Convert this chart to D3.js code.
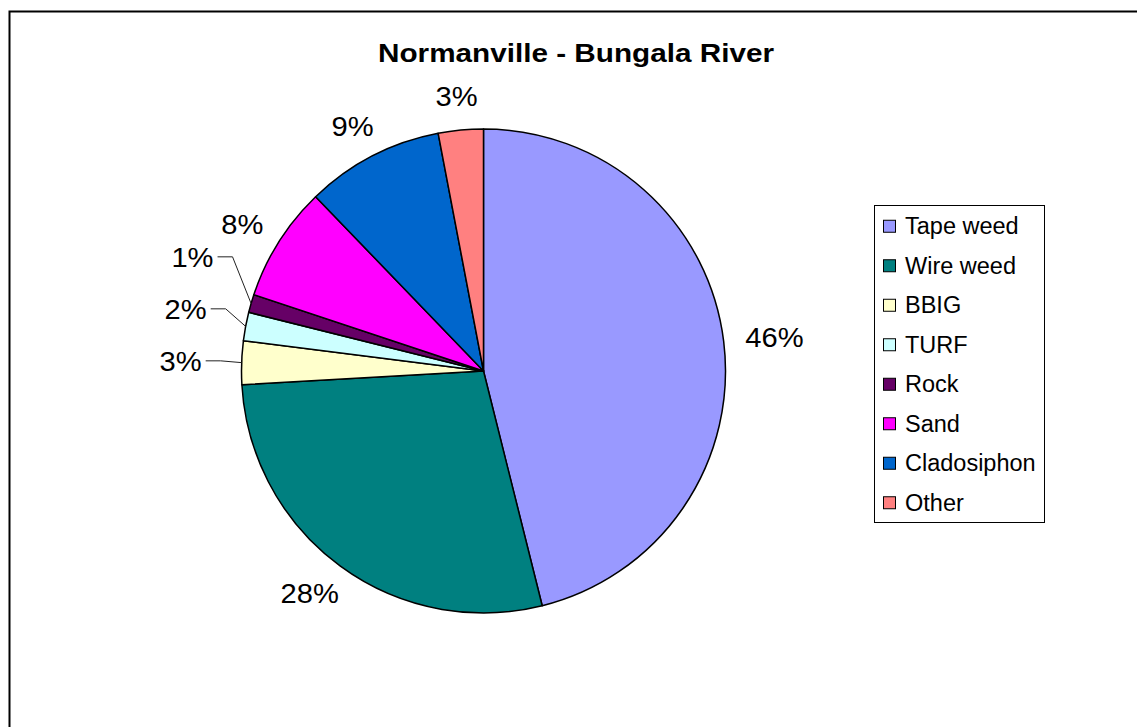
<!DOCTYPE html>
<html>
<head>
<meta charset="utf-8">
<script src="https://cdn.jsdelivr.net/npm/d3@7"></script>
<style>
  body { margin: 0; background: #fff; }
  svg { display: block; }
</style>
</head>
<body>
<svg id="chart" width="1137" height="727"></svg>
<script>
// Bottom-cover composition, Normanville - Bungala River (percent of cover)
const chartTitle = "Normanville - Bungala River";
const categories = ["Tape weed", "Wire weed", "BBIG", "TURF", "Rock", "Sand", "Cladosiphon", "Other"];
const shares = [46.1, 28.0, 2.9, 1.9, 1.2, 7.7, 9.2, 3.0];
const colors = ["#9999FF", "#008080", "#FFFFCC", "#CCFFFF", "#660066", "#FF00FF", "#0066CC", "#FF8080"];

const W = 1137, H = 727;
const font = "Arial, 'Liberation Sans', Helvetica, sans-serif";
const svg = d3.select("#chart");

// outer chart frame (runs past the right and bottom edges)
svg.append("rect")
  .attr("x", 9.5).attr("y", 11.5)
  .attr("width", W + 20).attr("height", H + 20)
  .attr("fill", "#fff").attr("stroke", "#000").attr("stroke-width", 2);

// title
svg.append("text")
  .attr("transform", "translate(576,62) scale(1.16,1)")
  .attr("text-anchor", "middle")
  .attr("font-family", font).attr("font-weight", "bold").attr("font-size", 25.6)
  .text(chartTitle);

// pie
const cx = 483.5, cy = 371, r = 242;
const total = d3.sum(shares);
const arcs = d3.pie().sort(null).value(d => d)(shares);
const arc = d3.arc().innerRadius(0).outerRadius(r);
const g = svg.append("g").attr("transform", `translate(${cx},${cy})`);

g.selectAll("path.slice").data(arcs).join("path")
  .attr("class", "slice")
  .attr("d", arc)
  .attr("fill", (d, i) => colors[i])
  .attr("stroke", "#000").attr("stroke-width", 1.5)
  .attr("stroke-linejoin", "round");

// percentage labels
const fmt = d3.format(".0%");
const labelFs = 27.5, labelSx = 1.06, halfH = 12;
const measurer = svg.append("text").attr("font-family", font).attr("font-size", labelFs).attr("visibility", "hidden");
const mid = d => (d.startAngle + d.endAngle) / 2;

const labels = arcs.map((d, i) => {
  const a = mid(d), sx = Math.sin(a), sy = -Math.cos(a);
  const text = fmt(d.value / total);
  measurer.text(text);
  const w = measurer.node().getComputedTextLength() * labelSx;
  const small = d.value / total < 0.0295;
  const R = r + (small ? 40 : 22);
  return {
    i, a, sx, sy, text, w, small,
    x: R * sx + sx * w / 2,
    y: R * sy + sy * halfH
  };
});
measurer.remove();

// push crowded labels apart vertically, working upward from the bottom on each side
const minGap = 52;
[-1, 1].forEach(side => {
  const list = labels.filter(l => Math.sign(l.sx) === side).sort((p, q) => q.y - p.y);
  const placed = [];
  list.forEach(l => {
    let moved = true;
    while (moved) {
      moved = false;
      for (const p of placed) {
        const xOverlap = Math.abs(p.x - l.x) < (p.w + l.w) / 2 + 4;
        if (xOverlap && Math.abs(p.y - l.y) < minGap) {
          l.y = p.y - minGap;
          moved = true;
        }
      }
    }
    placed.push(l);
  });
});

// leader lines for the small slices
labels.filter(l => l.small).forEach(l => {
  const edge = l.sx < 0 ? l.x + l.w / 2 : l.x - l.w / 2;
  const dir = l.sx < 0 ? 1 : -1;
  const pts = [
    [edge + dir * 4, l.y],
    [edge + dir * 19, l.y],
    [r * l.sx, r * l.sy]
  ];
  g.append("path")
    .attr("d", d3.line()(pts))
    .attr("fill", "none").attr("stroke", "#222").attr("stroke-width", 1);
});

g.selectAll("text.pct").data(labels).join("text")
  .attr("class", "pct")
  .attr("transform", l => `translate(${l.x},${l.y}) scale(${labelSx},1)`)
  .attr("text-anchor", "middle")
  .attr("dominant-baseline", "central")
  .attr("font-family", font).attr("font-size", labelFs)
  .attr("fill", "#000")
  .text(l => l.text);

// legend
const legend = svg.append("g");
const lx = 874.5, ly = 205.5, lw = 170, lh = 317;
legend.append("rect")
  .attr("x", lx).attr("y", ly).attr("width", lw).attr("height", lh)
  .attr("fill", "#fff").attr("stroke", "#000").attr("stroke-width", 1);

const rowScale = d3.scaleBand().domain(categories).range([ly + 1, ly + lh]);
const rows = legend.selectAll("g.item").data(categories).join("g")
  .attr("class", "item")
  .attr("transform", c => `translate(0,${rowScale(c) + rowScale.bandwidth() / 2})`);

rows.append("rect")
  .attr("x", 883.5).attr("y", -6).attr("width", 12).attr("height", 12)
  .attr("fill", (c, i) => colors[i]).attr("stroke", "#000").attr("stroke-width", 1);

rows.append("text")
  .attr("x", 905).attr("y", 0)
  .attr("dominant-baseline", "central")
  .attr("font-family", font).attr("font-size", 23.5)
  .text(c => c);
</script>
</body>
</html>
